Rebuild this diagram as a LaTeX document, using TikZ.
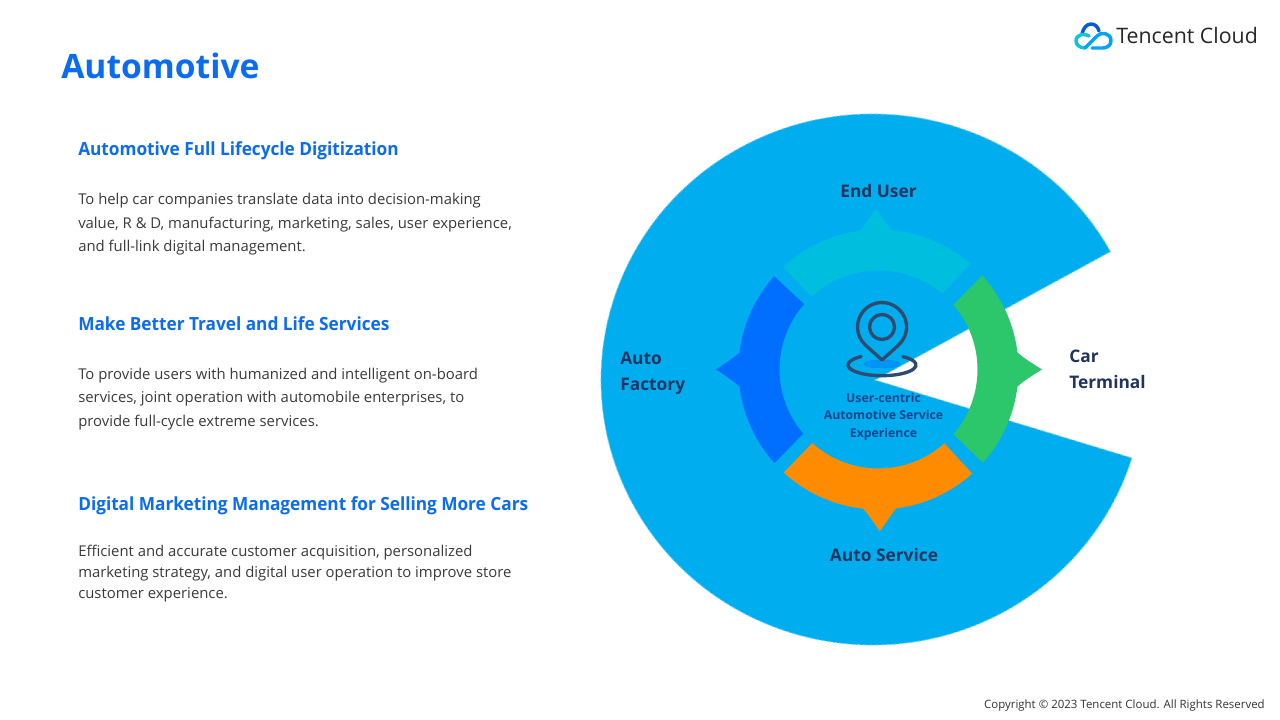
\documentclass[tikz,border=0pt]{standalone}
\usepackage{fontspec}
\setmainfont{Open Sans}
\newfontfamily\headfont[FakeStretch=0.95]{Open Sans}
\definecolor{discblue}{HTML}{00AEEF}
\definecolor{headblue}{HTML}{0A6CF0}
\definecolor{bodygrey}{HTML}{3A3A3A}
\definecolor{navy}{HTML}{1F3560}
\definecolor{midnavy}{HTML}{12448C}
\definecolor{segteal}{HTML}{00BEDD}
\definecolor{segblue}{HTML}{006EFF}
\definecolor{seggreen}{HTML}{2CC76A}
\definecolor{segorange}{HTML}{FF8C00}
\definecolor{iconline}{HTML}{2E4A6E}
\definecolor{logodark}{HTML}{0A5AD8}
\definecolor{logosky}{HTML}{00A4F4}
\definecolor{logoteal}{HTML}{12C4D8}
\tikzset{
  headtext/.style={anchor=west,inner sep=0,text=headblue,font=\headfont\fontsize{13.6pt}{16pt}\selectfont\bfseries},
  bodytext/.style={anchor=north west,inner sep=0,align=left,text=bodygrey,font=\fontsize{11.15pt}{17.7pt}\selectfont},
  bodytight/.style={bodytext,font=\fontsize{11.15pt}{15.8pt}\selectfont},
  ringlabel/.style={anchor=west,inner sep=0,align=left,text=navy,font=\fontsize{13pt}{19.5pt}\selectfont\bfseries},
  logostroke/.style={line width=2.6pt,line cap=round,line join=round},
}
% colour, outer start/end angle, inner start/end angle, tip radius, tip angle, half width
\newcommand{\ringseg}[8]{%
  \fill[#1] (#2:140) arc[start angle=#2,end angle={#7+#8},radius=140]
    .. controls ({#7+#8*0.62}:146) and ({#7+#8*0.28}:155) .. (#7:#6)
    .. controls ({#7-#8*0.28}:155) and ({#7-#8*0.62}:146) .. ({#7-#8}:140)
    arc[start angle={#7-#8},end angle=#3,radius=140]
    -- (#5:99) arc[start angle=#5,end angle=#4,radius=99] -- cycle;}
\begin{document}
\begin{tikzpicture}[x=0.75pt,y=0.75pt]
\useasboundingbox (0,0) rectangle (1280,720);
\fill[white] (0,0) rectangle (1280,720);
% large disc with the wedge cut out
\coordinate (apex) at (875,340);
\coordinate (disccentre) at (872.5,340.5);
\fill[discblue,draw=discblue!55!white,dash pattern=on 3pt off 1.5pt,line width=0.6pt]
  ([shift={(28.8:271.5 and 265.5)}]disccentre) arc[start angle=28.8,end angle=342.8,x radius=271.5,y radius=265.5] -- (apex) -- cycle;
% ring
\coordinate (ring) at (878.5,350.5);
\begin{scope}[shift={(ring)}]
  \ringseg{segteal}{133}{49}{132.5}{50}{160.5}{91}{6.5}
  \ringseg{seggreen}{42.2}{-41.8}{40.8}{-40.8}{163.5}{0}{7}
  \ringseg{segorange}{312}{227.4}{311.7}{228}{161.5}{270.5}{6.8}
  \ringseg{segblue}{222}{138.2}{220.4}{138.7}{162.5}{180}{7}
\end{scope}
% icon
\coordinate (pinhead) at (882,393);
\coordinate (pintip) at (882,360);
\coordinate (pinbase) at (882,355);
\fill[discblue!60!segblue,draw=discblue!50!segblue,line width=0.4pt] (882,356) ellipse[x radius=18,y radius=4];
\draw[iconline,line width=2.5pt,line join=round] (pintip) -- ([shift={(228:24.5)}]pinhead) arc[start angle=228,end angle=-48,radius=24.5] -- cycle;
\draw[iconline,line width=2.5pt] (pinhead) circle[radius=12.5];
\draw[iconline,line width=2.5pt,line cap=round] ([shift={(128:34 and 10.7)}]pinbase) arc[start angle=128,end angle=412,x radius=34,y radius=10.7];
% title
\node[anchor=west,inner sep=0,text=headblue,font=\fontsize{25.2pt}{30pt}\selectfont\bfseries] (title) at (61,654.5) {Automotive};
% left column
\node[headtext] (h1) at (78,569) {Automotive Full Lifecycle Digitization};
\node[bodytext] (b1) at (78,527) {To help car companies translate data into decision-making\\value, R \& D, manufacturing, marketing, sales, user experience,\\and full-link digital management.};
\node[headtext] (h2) at (78,396.5) {Make Better Travel and Life Services};
\node[bodytext] (b2) at (78,352.5) {To provide users with humanized and intelligent on-board\\services, joint operation with automobile enterprises, to\\provide full-cycle extreme services.};
\node[headtext] (h3) at (78,214) {Digital Marketing Management for Selling More Cars};
\node[bodytight] (b3) at (78,175.5) {Efficient and accurate customer acquisition, personalized\\marketing strategy, and digital user operation to improve store\\customer experience.};
% ring labels
\node[ringlabel,anchor=center] (enduser) at (878.5,528.5) {End User};
\node[ringlabel] (carterminal) at (1069,351) {Car\\Terminal};
\node[ringlabel] (autofactory) at (620,347) {Auto\\Factory};
\node[ringlabel,anchor=center] (autoservice) at (884,164.5) {Auto Service};
\node[anchor=center,align=center,inner sep=0,text=midnavy,font=\fontsize{9.2pt}{13.2pt}\selectfont\bfseries] (centre) at (883.5,303.5) {User-centric\\Automotive Service\\Experience};
% logo
\node[anchor=west,inner sep=0,text=black!85,font=\fontsize{16pt}{20pt}\selectfont] (logotext) at (1116,684) {Tencent Cloud};
\draw[logostroke,logodark] (1082,686) .. controls (1083,692) and (1087,696) .. (1091,696) .. controls (1095,696) and (1098,693) .. (1099,689);
\draw[logostroke,logoteal] (1089,684) .. controls (1085,687) and (1076,686) .. (1076,679) .. controls (1076,675) and (1080,672) .. (1085,672);
\draw[logostroke,logosky] (1085,672) -- (1097,684) .. controls (1100,688) and (1111,688) .. (1111,679) .. controls (1111,675) and (1107,672) .. (1103,672) -- (1092,672);
% copyright
\node[anchor=east,inner sep=0,text=black!80,font=\fontsize{8.6pt}{11pt}\selectfont] (copyright) at (1265,14.5) {Copyright © 2023 Tencent Cloud. All Rights Reserved};
\end{tikzpicture}
\end{document}
